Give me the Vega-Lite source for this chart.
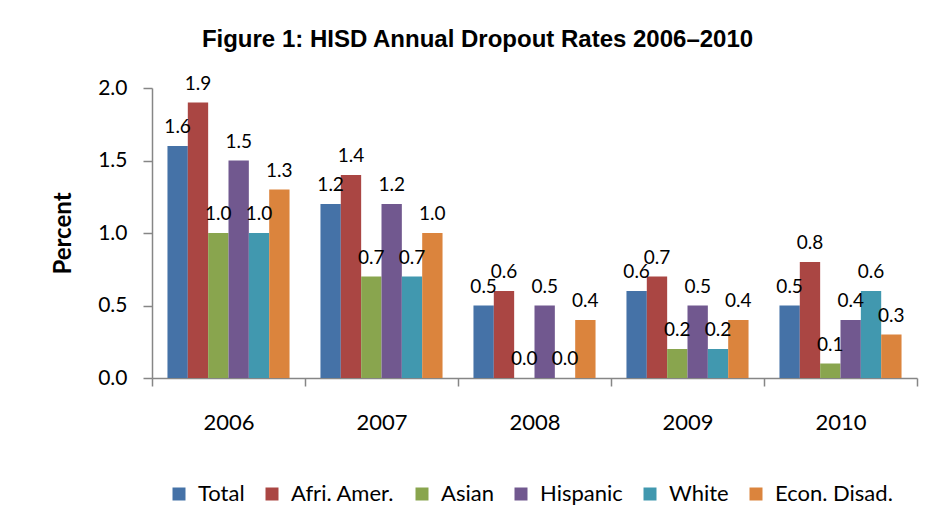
{
  "$schema": "https://vega.github.io/schema/vega-lite/v6.json",
  "width": 765,
  "height": 290,
  "autosize": {"type": "none"},
  "padding": {"left": 152, "top": 88, "right": 18, "bottom": 147},
  "background": "white",
  "title": {
    "text": "Figure 1: HISD Annual Dropout Rates 2006–2010",
    "font": "Liberation Sans Narrow, Liberation Sans",
    "fontSize": 24,
    "fontWeight": "bold",
    "color": "#000000",
    "anchor": "middle",
    "frame": "group",
    "dx": -57,
    "offset": 23
  },
  "data": {
    "values": [
      {"year": "2006", "group": "Total", "value": 1.6},
      {"year": "2006", "group": "Afri. Amer.", "value": 1.9},
      {"year": "2006", "group": "Asian", "value": 1.0},
      {"year": "2006", "group": "Hispanic", "value": 1.5},
      {"year": "2006", "group": "White", "value": 1.0},
      {"year": "2006", "group": "Econ. Disad.", "value": 1.3},
      {"year": "2007", "group": "Total", "value": 1.2},
      {"year": "2007", "group": "Afri. Amer.", "value": 1.4},
      {"year": "2007", "group": "Asian", "value": 0.7},
      {"year": "2007", "group": "Hispanic", "value": 1.2},
      {"year": "2007", "group": "White", "value": 0.7},
      {"year": "2007", "group": "Econ. Disad.", "value": 1.0},
      {"year": "2008", "group": "Total", "value": 0.5},
      {"year": "2008", "group": "Afri. Amer.", "value": 0.6},
      {"year": "2008", "group": "Asian", "value": 0.0},
      {"year": "2008", "group": "Hispanic", "value": 0.5},
      {"year": "2008", "group": "White", "value": 0.0},
      {"year": "2008", "group": "Econ. Disad.", "value": 0.4},
      {"year": "2009", "group": "Total", "value": 0.6},
      {"year": "2009", "group": "Afri. Amer.", "value": 0.7},
      {"year": "2009", "group": "Asian", "value": 0.2},
      {"year": "2009", "group": "Hispanic", "value": 0.5},
      {"year": "2009", "group": "White", "value": 0.2},
      {"year": "2009", "group": "Econ. Disad.", "value": 0.4},
      {"year": "2010", "group": "Total", "value": 0.5},
      {"year": "2010", "group": "Afri. Amer.", "value": 0.8},
      {"year": "2010", "group": "Asian", "value": 0.1},
      {"year": "2010", "group": "Hispanic", "value": 0.4},
      {"year": "2010", "group": "White", "value": 0.6},
      {"year": "2010", "group": "Econ. Disad.", "value": 0.3}
    ]
  },
  "encoding": {
    "x": {
      "field": "year",
      "type": "nominal",
      "scale": {"paddingInner": 0, "paddingOuter": 0},
      "axis": {
        "title": null,
        "labelAngle": 0,
        "labelFont": "Lato",
        "labelFontSize": 22,
        "labelColor": "#000000",
        "labelPadding": 26,
        "tickBand": "extent",
        "tickSize": 8,
        "tickColor": "#868686",
        "domainColor": "#868686",
        "domainWidth": 1.5,
        "tickWidth": 1.5
      }
    },
    "xOffset": {
      "field": "group",
      "type": "nominal",
      "sort": ["Total", "Afri. Amer.", "Asian", "Hispanic", "White", "Econ. Disad."],
      "scale": {"paddingInner": 0, "paddingOuter": 0.76}
    },
    "y": {
      "field": "value",
      "type": "quantitative",
      "scale": {"domain": [0, 2], "nice": false},
      "axis": {
        "title": "Percent",
        "titleFont": "Lato",
        "titleFontSize": 24,
        "titleFontWeight": "bold",
        "titleColor": "#000000",
        "titlePadding": 22,
        "values": [0, 0.5, 1, 1.5, 2],
        "format": ".1f",
        "labelFont": "Lato",
        "labelFontSize": 21,
        "labelColor": "#000000",
        "labelPadding": 16,
        "tickSize": 9,
        "tickColor": "#868686",
        "domainColor": "#868686",
        "domainWidth": 1.5,
        "tickWidth": 1.5,
        "grid": false
      }
    }
  },
  "layer": [
    {
      "mark": {"type": "bar"},
      "encoding": {
        "color": {
          "field": "group",
          "type": "nominal",
          "sort": ["Total", "Afri. Amer.", "Asian", "Hispanic", "White", "Econ. Disad."],
          "scale": {
            "domain": ["Total", "Afri. Amer.", "Asian", "Hispanic", "White", "Econ. Disad."],
            "range": ["#4572A7", "#AA4643", "#89A54E", "#71588F", "#4198AF", "#DB843D"]
          },
          "legend": {
            "title": null,
            "orient": "none",
            "legendX": 16,
            "legendY": 395,
            "direction": "horizontal",
            "columns": 6,
            "symbolType": "square",
            "symbolSize": 169,
            "symbolStrokeWidth": 0,
            "labelFont": "Lato",
            "labelFontSize": 22,
            "labelColor": "#000000",
            "labelOffset": 8,
            "columnPadding": 16
          }
        }
      }
    },
    {
      "mark": {"type": "text", "baseline": "bottom", "dy": -9, "font": "Lato", "fontSize": 19, "color": "#000000"},
      "encoding": {
        "text": {"field": "value", "type": "quantitative", "format": ".1f"}
      }
    }
  ],
  "config": {
    "view": {"stroke": null}
  }
}
